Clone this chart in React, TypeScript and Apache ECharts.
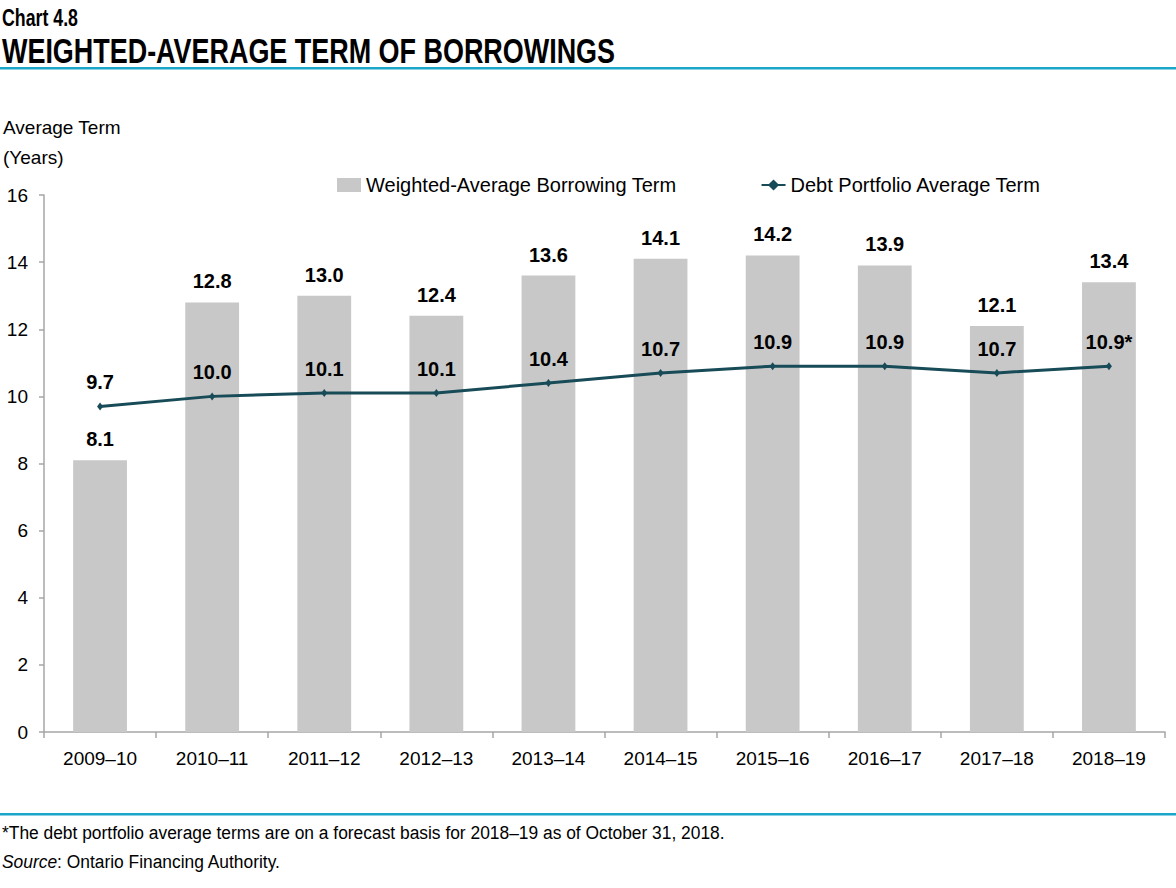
import React, { useEffect, useRef } from 'react';
import * as echarts from 'echarts';

const years = ['2009–10', '2010–11', '2011–12', '2012–13', '2013–14', '2014–15', '2015–16', '2016–17', '2017–18', '2018–19'];
const borrowingTerm = [8.1, 12.8, 13.0, 12.4, 13.6, 14.1, 14.2, 13.9, 12.1, 13.4];
const portfolioTerm = [9.7, 10.0, 10.1, 10.1, 10.4, 10.7, 10.9, 10.9, 10.7, 10.9];
const portfolioLabels = ['9.7', '10.0', '10.1', '10.1', '10.4', '10.7', '10.9', '10.9', '10.7', '10.9*'];

const FONT = '"Liberation Sans Narrow", "Arial Narrow", "Liberation Sans", Arial, sans-serif';
const TEAL = '#1aa6c9';
const LINE = '#174b57';
const AXIS = '#a6a6a6';

// text squeezed horizontally to mimic a narrow font
const narrowText = (text: string, x: number, y: number, size: number, scaleX: number, extra: any = {}) => ({
  type: 'text',
  x,
  y,
  scaleX,
  style: { text, x: 0, y: 0, fontFamily: FONT, fontSize: size, fill: '#000', verticalAlign: 'middle', ...extra }
});

const App: React.FC = () => {
  const chartRef = useRef<HTMLDivElement>(null);

  useEffect(() => {
    if (!chartRef.current) return;
    const chart = echarts.init(chartRef.current, null, { renderer: 'svg' });

    const option = {
      animation: false,
      textStyle: { fontFamily: FONT },
      grid: { left: 44, right: 11, top: 195, bottom: 156 },
      legend: {
        top: 170,
        left: 332,
        itemGap: 84,
        itemWidth: 24,
        itemHeight: 14,
        textStyle: { fontFamily: FONT, fontSize: 20, color: '#000' },
        data: [
          { name: 'Weighted-Average Borrowing Term', icon: 'rect' },
          { name: 'Debt Portfolio Average Term' }
        ]
      },
      xAxis: {
        type: 'category',
        data: years,
        axisLine: { lineStyle: { color: AXIS, width: 1.5 } },
        axisTick: { show: true, length: 6, lineStyle: { color: AXIS, width: 1.5 } },
        axisLabel: { fontFamily: FONT, fontSize: 19, color: '#000', margin: 17 }
      },
      yAxis: {
        type: 'value',
        min: 0,
        max: 16,
        interval: 2,
        axisLine: { show: true, lineStyle: { color: AXIS, width: 1.5 } },
        axisTick: { show: true, length: 5, lineStyle: { color: AXIS, width: 1.5 } },
        splitLine: { show: false },
        axisLabel: { fontFamily: FONT, fontSize: 19, color: '#000', margin: 16 }
      },
      series: [
        {
          name: 'Weighted-Average Borrowing Term',
          type: 'bar',
          data: borrowingTerm,
          barWidth: '48%',
          itemStyle: { color: '#c8c8c8' },
          label: {
            show: true,
            position: 'top',
            distance: 11,
            fontFamily: FONT,
            fontSize: 20,
            fontWeight: 'bold',
            color: '#000',
            formatter: (p: any) => p.value.toFixed(1)
          }
        },
        {
          name: 'Debt Portfolio Average Term',
          type: 'line',
          data: portfolioTerm,
          symbol: 'diamond',
          symbolSize: [6, 8],
          lineStyle: { color: LINE, width: 3 },
          itemStyle: { color: LINE },
          label: {
            show: true,
            position: 'top',
            distance: 10,
            fontFamily: FONT,
            fontSize: 20,
            fontWeight: 'bold',
            color: '#000',
            formatter: (p: any) => portfolioLabels[p.dataIndex]
          }
        }
      ],
      graphic: [
        narrowText('Chart 4.8', 2, 17, 24, 0.74, { fontWeight: 'bold' }),
        narrowText('WEIGHTED-AVERAGE TERM OF BORROWINGS', 2, 51, 35, 0.77, { fontWeight: 'bold' }),
        { type: 'rect', shape: { x: 0, y: 67, width: 1176, height: 2.5 }, style: { fill: TEAL } },
        narrowText('Average Term', 3, 127, 19, 1),
        narrowText('(Years)', 3, 157, 19, 1),
        { type: 'rect', shape: { x: 0, y: 813, width: 1176, height: 2.5 }, style: { fill: TEAL } },
        narrowText('*The debt portfolio average terms are on a forecast basis for 2018–19 as of October 31, 2018.', 2, 833, 19, 0.915),
        narrowText('{i|Source}: Ontario Financing Authority.', 2, 862, 19, 0.915, {
          rich: { i: { fontFamily: FONT, fontSize: 19, fontStyle: 'italic' } }
        })
      ]
    };

    chart.setOption(option);
    return () => chart.dispose();
  }, []);

  return <div ref={chartRef} style={{ position: 'absolute', left: 0, top: 0, width: 1176, height: 888, background: '#fff' }} />;
};

export default App;
